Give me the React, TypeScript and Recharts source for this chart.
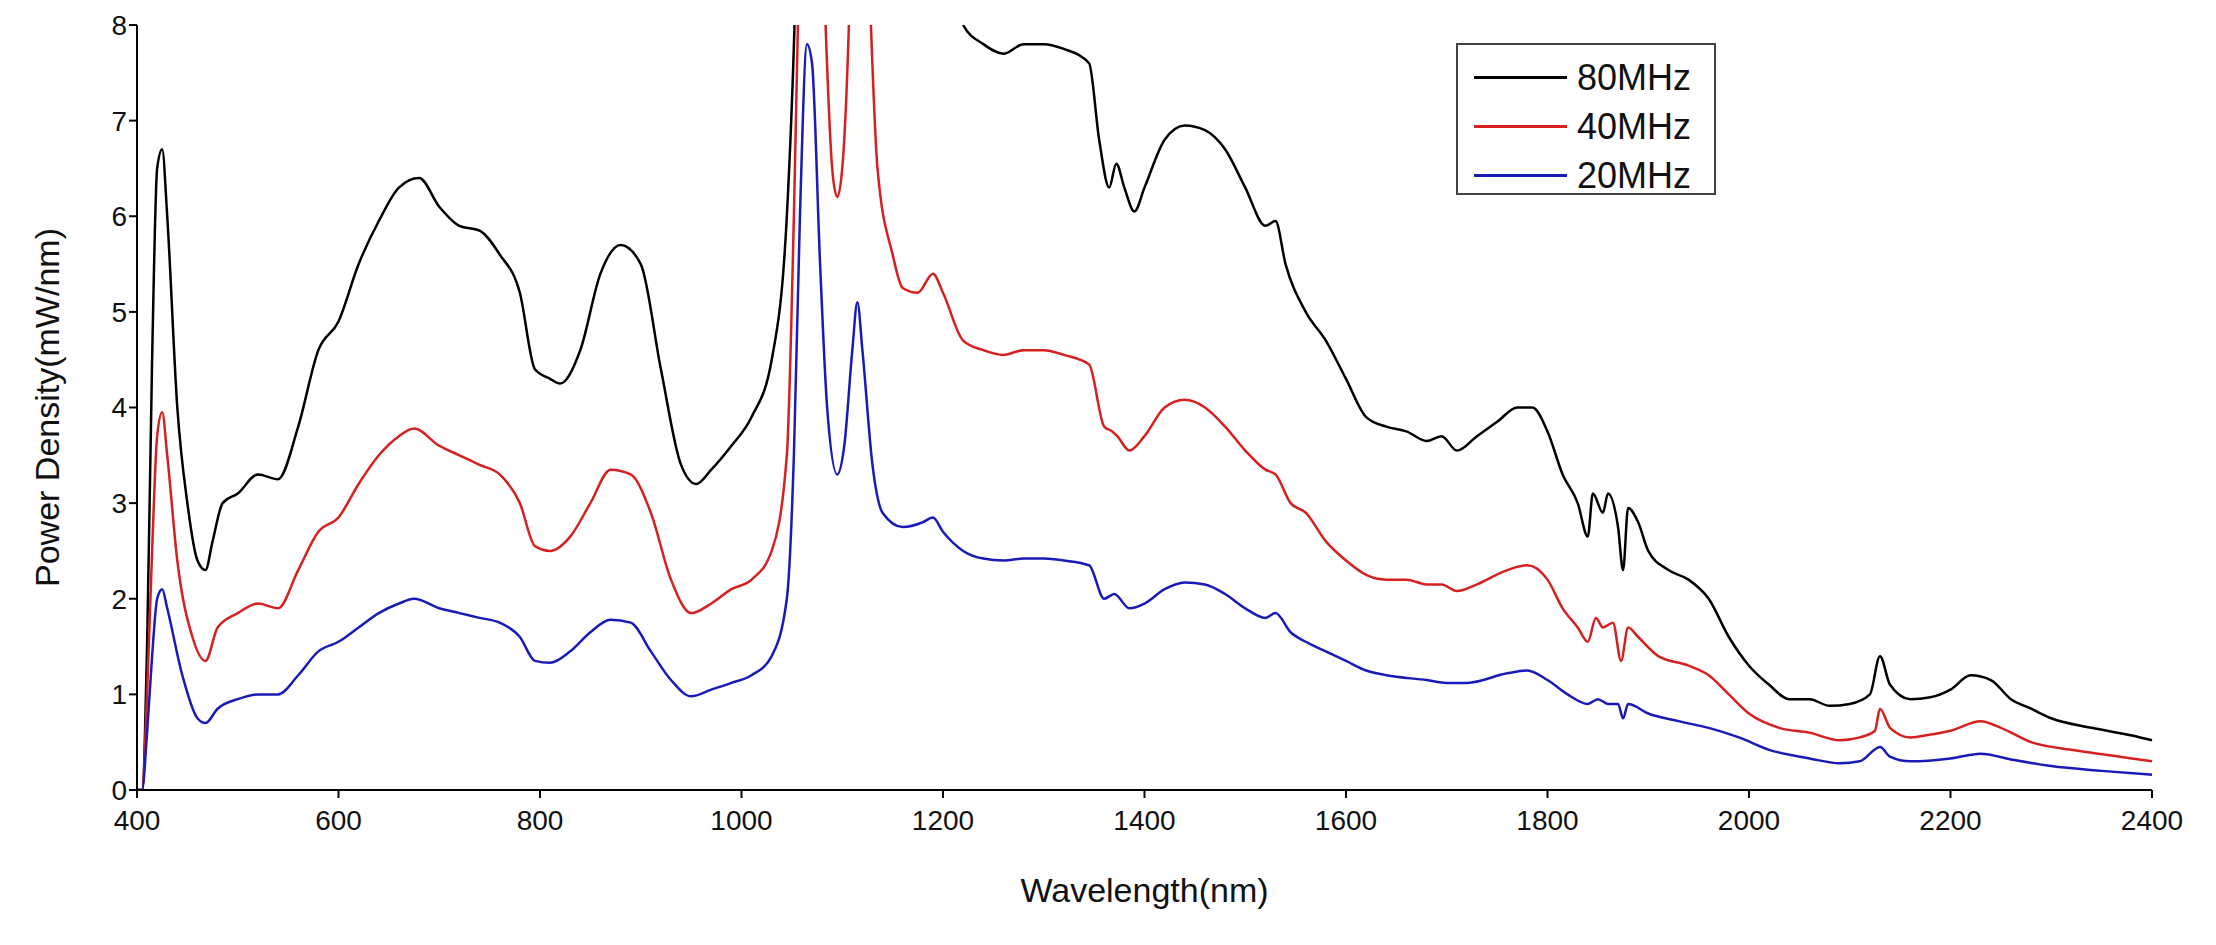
import { LineChart, Line, XAxis, YAxis, Label } from 'recharts';

const wl80 = [400, 405, 410, 415, 420, 425, 430, 440, 450, 460, 468, 475, 485, 500, 520, 540, 560, 580, 600, 620, 640, 660, 680, 700, 720, 740, 760, 780, 795, 810, 820, 840, 860, 880, 900, 920, 940, 955, 970, 990, 1010, 1030, 1045, 1055, 1060, 1200, 1215, 1220, 1240, 1260, 1280, 1300, 1320, 1345, 1355, 1365, 1372, 1380, 1390, 1400, 1420, 1440, 1460, 1480, 1500, 1520, 1530, 1540, 1560, 1580, 1600, 1620, 1640, 1660, 1680, 1695, 1710, 1730, 1750, 1770, 1785, 1800, 1815, 1830, 1840, 1845, 1855, 1860, 1870, 1875, 1880, 1890, 1900, 1920, 1940, 1960, 1980, 2000, 2020, 2040, 2060, 2080, 2100, 2120, 2130, 2140, 2160, 2180, 2200, 2220, 2240, 2260, 2280, 2300, 2340, 2380, 2400];
const p80 = [0, 0, 1.5, 4.5, 6.5, 6.7, 6.0, 4.0, 3.0, 2.4, 2.3, 2.6, 3.0, 3.1, 3.3, 3.25, 3.8, 4.6, 4.9, 5.5, 5.95, 6.3, 6.4, 6.1, 5.9, 5.85, 5.6, 5.2, 4.4, 4.3, 4.25, 4.6, 5.4, 5.7, 5.5, 4.4, 3.4, 3.2, 3.35, 3.6, 3.9, 4.5, 6.0, 9, 12, 12, 9, 8.0, 7.8, 7.7, 7.8, 7.8, 7.75, 7.6, 6.8, 6.3, 6.55, 6.3, 6.05, 6.3, 6.8, 6.95, 6.9, 6.7, 6.3, 5.9, 5.95, 5.5, 5.0, 4.7, 4.3, 3.9, 3.8, 3.75, 3.65, 3.7, 3.55, 3.7, 3.85, 4.0, 4.0, 3.75, 3.3, 3.0, 2.65, 3.1, 2.9, 3.1, 2.75, 2.3, 2.95, 2.8, 2.5, 2.3, 2.2, 2.0, 1.6, 1.3, 1.1, 0.95, 0.95, 0.88, 0.9, 1.0, 1.4, 1.1, 0.95, 0.97, 1.05, 1.2, 1.15, 0.95, 0.85, 0.75, 0.65, 0.57, 0.52];

const wl40 = [400, 405, 410, 415, 420, 425, 430, 440, 455, 468, 480, 500, 520, 540, 560, 580, 600, 620, 640, 660, 675, 700, 720, 740, 760, 780, 795, 810, 830, 850, 870, 890, 910, 930, 950, 970, 990, 1010, 1030, 1045, 1052, 1058, 1070, 1080, 1090, 1095, 1100, 1108, 1115, 1125, 1135, 1150, 1160, 1175, 1190, 1200, 1220, 1240, 1260, 1280, 1300, 1320, 1345, 1360, 1368, 1373, 1385, 1400, 1420, 1440, 1460, 1480, 1500, 1520, 1530, 1545, 1560, 1580, 1600, 1620, 1640, 1660, 1680, 1695, 1710, 1730, 1760, 1780, 1800, 1815, 1830, 1840, 1848, 1855, 1865, 1873, 1880, 1890, 1910, 1940, 1960, 1980, 2000, 2030, 2060, 2090, 2110, 2125, 2130, 2140, 2160, 2180, 2200, 2230, 2250, 2280, 2320, 2360, 2400];
const p40 = [0, 0, 1.0, 2.5, 3.7, 3.95, 3.5, 2.4, 1.6, 1.35, 1.7, 1.85, 1.95, 1.9, 2.3, 2.7, 2.85, 3.2, 3.5, 3.7, 3.78, 3.6, 3.5, 3.4, 3.3, 3.0, 2.55, 2.5, 2.65, 3.0, 3.35, 3.3, 2.9, 2.2, 1.85, 1.95, 2.1, 2.2, 2.5, 3.5, 6.0, 9, 12, 9, 6.5, 6.2, 6.5, 8.5, 12, 9, 6.5, 5.6, 5.25, 5.2, 5.4, 5.2, 4.7, 4.6, 4.55, 4.6, 4.6, 4.55, 4.45, 3.8, 3.75, 3.7, 3.55, 3.7, 4.0, 4.08, 4.0, 3.8, 3.55, 3.35, 3.3, 3.0, 2.9, 2.6, 2.4, 2.25, 2.2, 2.2, 2.15, 2.15, 2.08, 2.15, 2.3, 2.35, 2.2, 1.9, 1.7, 1.55, 1.8, 1.7, 1.75, 1.35, 1.7, 1.6, 1.4, 1.3, 1.2, 1.0, 0.8, 0.65, 0.6, 0.52, 0.55, 0.62, 0.85, 0.65, 0.55, 0.58, 0.62, 0.72, 0.65, 0.5, 0.42, 0.36, 0.3];

const wl20 = [400, 405, 410, 415, 420, 425, 430, 445, 460, 468, 480, 500, 520, 540, 560, 580, 600, 620, 640, 660, 675, 700, 720, 740, 760, 780, 795, 810, 830, 850, 870, 890, 910, 930, 950, 970, 990, 1010, 1030, 1045, 1052, 1058, 1065, 1070, 1078, 1085, 1095, 1102, 1110, 1115, 1120, 1130, 1140, 1160, 1180, 1190, 1200, 1220, 1240, 1260, 1280, 1300, 1320, 1345, 1360, 1370, 1385, 1400, 1420, 1440, 1460, 1480, 1500, 1520, 1530, 1545, 1560, 1580, 1600, 1620, 1640, 1680, 1700, 1720, 1760, 1780, 1800, 1820, 1840, 1850, 1860, 1870, 1875, 1880, 1900, 1930, 1960, 1990, 2020, 2060, 2090, 2110, 2130, 2140, 2160, 2200, 2230, 2260, 2300, 2350, 2400];
const p20 = [0, 0, 0.6, 1.4, 2.0, 2.1, 1.9, 1.2, 0.75, 0.7, 0.85, 0.95, 1.0, 1.0, 1.2, 1.45, 1.55, 1.7, 1.85, 1.95, 2.0, 1.9, 1.85, 1.8, 1.75, 1.6, 1.35, 1.33, 1.45, 1.65, 1.78, 1.75, 1.45, 1.15, 0.98, 1.05, 1.12, 1.2, 1.4, 2.0, 3.5, 6.0, 7.8, 7.6, 5.5, 4.0, 3.3, 3.6, 4.6, 5.1, 4.6, 3.4, 2.9, 2.75, 2.8, 2.85, 2.7, 2.5, 2.42, 2.4, 2.42, 2.42, 2.4, 2.35, 2.0, 2.05, 1.9, 1.95, 2.1, 2.17, 2.15, 2.05, 1.9, 1.8, 1.85, 1.65, 1.55, 1.45, 1.35, 1.25, 1.2, 1.15, 1.12, 1.12, 1.22, 1.25, 1.15, 1.0, 0.9, 0.95, 0.9, 0.9, 0.75, 0.9, 0.8, 0.72, 0.65, 0.55, 0.42, 0.33, 0.28, 0.3, 0.45, 0.35, 0.3, 0.33, 0.38, 0.32, 0.25, 0.2, 0.16];

const xTicks = [400, 600, 800, 1000, 1200, 1400, 1600, 1800, 2000, 2200, 2400];
const yTicks = [0, 1, 2, 3, 4, 5, 6, 7, 8];

const series = [
  { name: '80MHz', color: '#000000', wl: wl80, p: p80 },
  { name: '40MHz', color: '#d62020', wl: wl40, p: p40 },
  { name: '20MHz', color: '#1a1ab8', wl: wl20, p: p20 },
];

const font = "'Liberation Sans', Arial, sans-serif";

function LegendBox() {
  return (
    <div style={{ position: 'absolute', left: 1448, top: 35, border: '2px solid #444', width: 260, height: 152, boxSizing: 'border-box', paddingTop: 8, fontFamily: font, background: '#fff' }}>
      {series.map((s) => (
        <div key={s.name} style={{ display: 'flex', alignItems: 'center', height: 49 }}>
          <div style={{ width: 93, height: 3, background: s.color, marginLeft: 16, marginRight: 10 }} />
          <span style={{ fontSize: 36, color: '#111' }}>{s.name}</span>
        </div>
      ))}
    </div>
  );
}

export default function App() {
  return (
    <div style={{ position: 'relative', width: 2200, height: 930 }}>
      <LineChart width={2200} height={930} margin={{ top: 17, right: 56, left: 69, bottom: 48 }} style={{ fontFamily: font }}>
        <XAxis
          type="number"
          dataKey="x"
          domain={[400, 2400]}
          ticks={xTicks}
          allowDuplicatedCategory={false}
          stroke="#000"
          strokeWidth={2}
          tick={{ fill: '#111', fontSize: 28, dy: 10 }}
          tickSize={8}
          height={100}
        >
          <Label value="Wavelength(nm)" position="insideBottom" offset={-12} style={{ fontSize: 34, fill: '#111' }} />
        </XAxis>
        <YAxis
          type="number"
          domain={[0, 8]}
          ticks={yTicks}
          allowDataOverflow
          stroke="#000"
          strokeWidth={2}
          tick={{ fill: '#111', fontSize: 28 }}
          tickSize={8}
          width={60}
        >
          <Label value="Power Density(mW/nm)" angle={-90} position="insideLeft" offset={-30} style={{ fontSize: 34, fill: '#111', textAnchor: 'middle' }} />
        </YAxis>
        {series.map((s) => (
          <Line
            key={s.name}
            name={s.name}
            data={s.wl.map((x, i) => ({ x, y: s.p[i] }))}
            dataKey="y"
            stroke={s.color}
            strokeWidth={2.5}
            dot={false}
            type="monotone"
            isAnimationActive={false}
          />
        ))}
      </LineChart>
      <LegendBox />
    </div>
  );
}
